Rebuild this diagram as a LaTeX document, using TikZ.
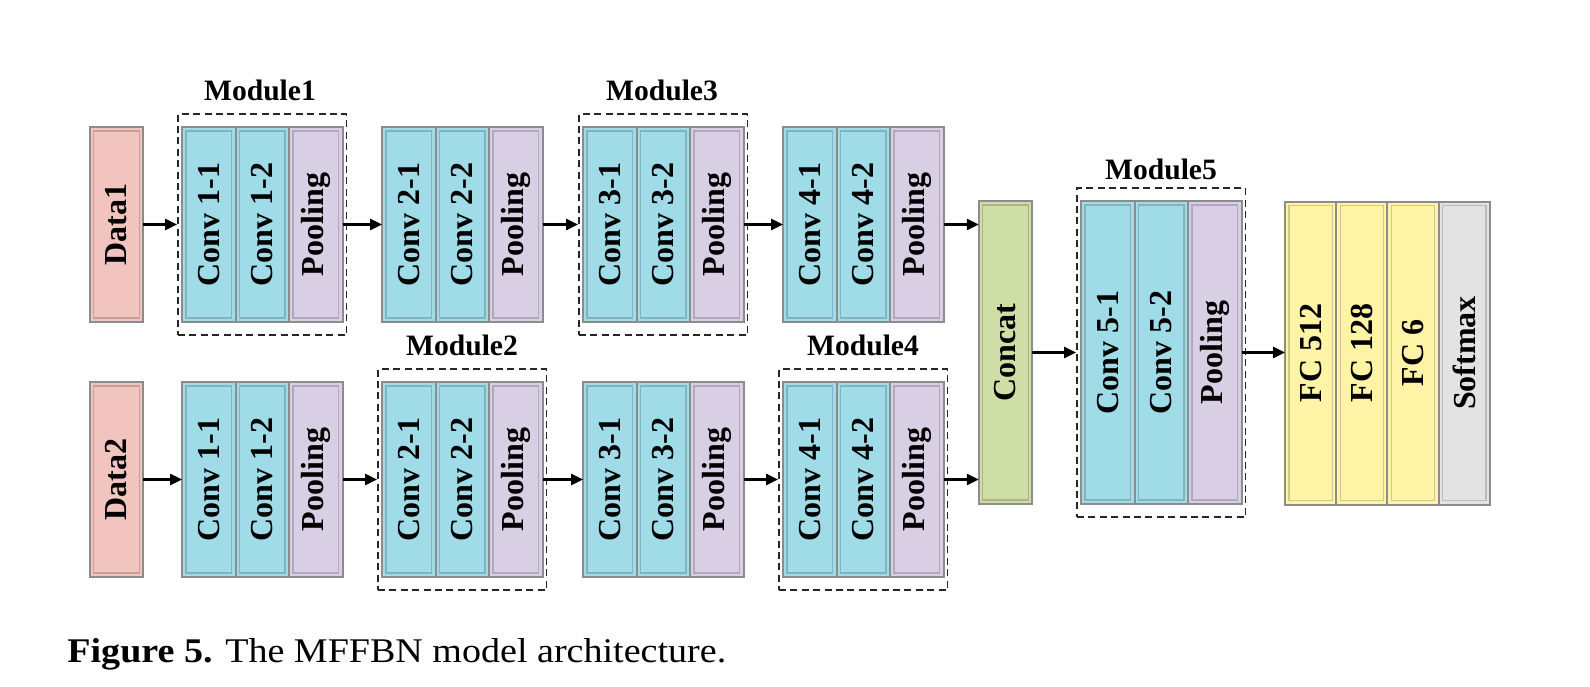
\documentclass[tikz,border=0pt]{standalone}
\usepackage{fontspec}
\setmainfont{Liberation Serif}
\usetikzlibrary{arrows.meta,fit,calc}
\definecolor{convc}{HTML}{A0DBE8}
\definecolor{poolc}{HTML}{D9CFE5}
\definecolor{datac}{HTML}{F2C4BF}
\definecolor{catc}{HTML}{CFDDA6}
\definecolor{fcc}{HTML}{FFF3A6}
\definecolor{smc}{HTML}{E3E3E3}
\definecolor{edgec}{HTML}{8C8C8C}
\tikzset{
  blk/.style={draw=edgec, line width=1pt, outer sep=0pt, inner sep=0pt,
    minimum width=26.75pt, minimum height=97.5pt,
    font=\fontsize{16}{18}\selectfont\bfseries,
    path picture={\draw[black, draw opacity=0.18, line width=0.7pt]
      ([shift={(2pt,-2pt)}]path picture bounding box.north west) rectangle
      ([shift={(-2pt,2pt)}]path picture bounding box.south east);
      \draw[black!55, line width=1.4pt]
      (path picture bounding box.north west) -- (path picture bounding box.north east);}},
  tallblk/.style={blk, minimum height=151.5pt},
  modbox/.style={draw=black!85, line width=0.9pt, dash pattern=on 3.5pt off 2.2pt,
    inner xsep=2pt, inner ysep=6.5pt},
  modlabel/.style={font=\fontsize{14.8}{16}\selectfont\bfseries, inner sep=0pt},
  arr/.style={line width=1.25pt, -{Triangle[length=6pt,width=5.5pt]}}
}
\newcommand{\convgroup}[5]{%
  \node[blk, fill=convc] (#1a) at (#2+26.75,#3) {\rotatebox{90}{#4}};
  \node[blk, fill=convc, anchor=west] (#1b) at (#1a.east) {\rotatebox{90}{#5}};
  \node[blk, fill=poolc, anchor=west] (#1c) at (#1b.east) {\rotatebox{90}{Pooling}};
}
\begin{document}
\begin{tikzpicture}[x=0.5pt,y=-0.5pt]
\useasboundingbox (0,0) rectangle (1590,686);
% top row
\node[blk, fill=datac] (d1) at (116.5,224.5) {\rotatebox{90}{Data1}};
\convgroup{ta}{182}{224.5}{Conv 1-1}{Conv 1-2}
\convgroup{tb}{382}{224.5}{Conv 2-1}{Conv 2-2}
\convgroup{tc}{583}{224.5}{Conv 3-1}{Conv 3-2}
\convgroup{td}{783}{224.5}{Conv 4-1}{Conv 4-2}
% bottom row
\node[blk, fill=datac] (d2) at (116.5,479.5) {\rotatebox{90}{Data2}};
\convgroup{ba}{182}{479.5}{Conv 1-1}{Conv 1-2}
\convgroup{bb}{382}{479.5}{Conv 2-1}{Conv 2-2}
\convgroup{bc}{583}{479.5}{Conv 3-1}{Conv 3-2}
\convgroup{bd}{783}{479.5}{Conv 4-1}{Conv 4-2}
% concat
\node[tallblk, fill=catc] (cc) at (1005.5,352.5) {\rotatebox{90}{Concat}};
% module 5
\node[tallblk, fill=convc] (ea) at (1107.75,352.5) {\rotatebox{90}{Conv 5-1}};
\node[tallblk, fill=convc, anchor=west] (eb) at (ea.east) {\rotatebox{90}{Conv 5-2}};
\node[tallblk, fill=poolc, anchor=west] (ec) at (eb.east) {\rotatebox{90}{Pooling}};
% FC
\node[tallblk, fill=fcc, minimum width=25.6pt] (f1) at (1310.6,353) {\rotatebox{90}{FC 512}};
\node[tallblk, fill=fcc, minimum width=25.6pt, anchor=west] (f2) at (f1.east) {\rotatebox{90}{FC 128}};
\node[tallblk, fill=fcc, minimum width=25.6pt, anchor=west] (f3) at (f2.east) {\rotatebox{90}{FC 6}};
\node[tallblk, fill=smc, minimum width=25.6pt, anchor=west] (f4) at (f3.east) {\rotatebox{90}{Softmax}};
% module boxes
\node[modbox, fit=(taa)(tac)] (m1) {};
\node[modbox, fit=(tca)(tcc)] (m3) {};
\node[modbox, fit=(bba)(bbc)] (m2) {};
\node[modbox, fit=(bda)(bdc)] (m4) {};
\node[modbox, fit=(ea)(ec)] (m5) {};
\node[modlabel] (l1) at (260,90) {Module1};
\node[modlabel] (l3) at (662,90) {Module3};
\node[modlabel] (l2) at (462,345) {Module2};
\node[modlabel] (l4) at (863,345) {Module4};
\node[modlabel] (l5) at (1161,169) {Module5};
% arrows top
\draw[arr] (d1.east) -- (d1.east -| m1.west);
\draw[arr] (tac.east) -- (tba.west);
\draw[arr] (tbc.east) -- (tbc.east -| m3.west);
\draw[arr] (tcc.east) -- (tda.west);
\draw[arr] (tdc.east) -- (tdc.east -| cc.west);
% arrows bottom
\draw[arr] (d2.east) -- (baa.west);
\draw[arr] (bac.east) -- (bac.east -| m2.west);
\draw[arr] (bbc.east) -- (bca.west);
\draw[arr] (bcc.east) -- (bcc.east -| m4.west);
\draw[arr] (bdc.east) -- (bdc.east -| cc.west);
% right
\draw[arr] (cc.east) -- (cc.east -| m5.west);
\draw[arr] (ec.east) -- (ec.east -| f1.west);
% caption
\node[anchor=base west, inner sep=0pt] (cap) at (67,662)
  {\fontsize{17.3}{20}\selectfont\scalebox{1.1}[1]{\textbf{Figure 5.} The MFFBN model architecture.}};
\end{tikzpicture}
\end{document}
